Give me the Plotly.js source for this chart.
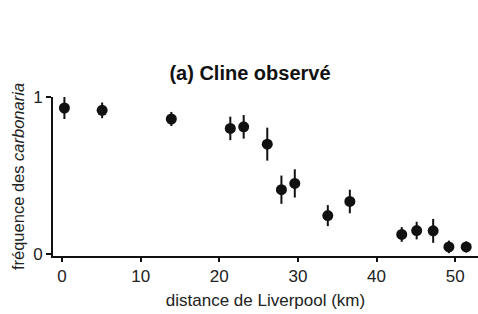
<!DOCTYPE html>
<html>
<head>
<meta charset="utf-8">
<script src="https://cdn.plot.ly/plotly-3.0.1.min.js"></script>
<style>html,body{margin:0;padding:0;background:#fff;}#chart{width:478px;height:314px;}</style>
</head>
<body>
<div id="chart"></div>
<script>
// distance from Liverpool (km)
const distanceKm = [0.3, 5.1, 13.9, 21.4, 23.1, 26.1, 27.9, 29.6, 33.8, 36.6, 43.2, 45.1, 47.2, 49.2, 51.4];
// observed frequency of carbonaria
const frequency = [0.93, 0.915, 0.86, 0.80, 0.81, 0.70, 0.41, 0.45, 0.245, 0.335, 0.125, 0.15, 0.148, 0.046, 0.046];
// half-length of the error bars
const errHalf = [0.07, 0.05, 0.045, 0.075, 0.075, 0.105, 0.09, 0.09, 0.067, 0.075, 0.047, 0.056, 0.076, 0.04, 0.035];
const xTicks = [0, 10, 20, 30, 40, 50];
const yTicks = [0, 1];

const trace = {
  x: distanceKm,
  y: frequency,
  type: 'scatter',
  mode: 'markers',
  cliponaxis: false,
  marker: {color: '#111', size: 11},
  error_y: {type: 'data', array: errHalf, visible: true, color: '#111', thickness: 2, width: 0}
};

const font = {family: 'Liberation Sans, Arial, sans-serif', color: '#222', size: 16};

const layout = {
  width: 478, height: 314,
  margin: {l: 53, r: 0, t: 97, b: 58},
  paper_bgcolor: '#fff', plot_bgcolor: '#fff',
  font: font,
  showlegend: false,
  title: {
    text: '<b>(a) Cline observé</b>',
    x: 0.523, xref: 'container', xanchor: 'center',
    y: 0.768, yref: 'container', yanchor: 'middle',
    font: {family: 'Liberation Sans, Arial, sans-serif', size: 20, color: '#111'}
  },
  xaxis: {
    range: [-1.15, 52.9],
    tickvals: xTicks, ticktext: xTicks.map(String),
    showgrid: false, zeroline: false,
    showline: true, linecolor: '#111', linewidth: 2,
    ticks: 'outside', ticklen: 4, tickwidth: 2, tickcolor: '#111',
    tickfont: {size: 17, color: '#222'},
    title: {text: 'distance de Liverpool (km)', standoff: 9, font: {size: 17, color: '#222'}}
  },
  yaxis: {
    range: [-0.012, 1],
    tickvals: yTicks, ticktext: yTicks.map(String),
    showgrid: false, zeroline: false,
    showline: true, linecolor: '#111', linewidth: 2,
    ticks: 'outside', ticklen: 5, tickwidth: 2, tickcolor: '#111',
    tickfont: {size: 17, color: '#222'},
    title: {text: 'fréquence des <i>carbonaria</i>', standoff: 4, font: {size: 16.5, color: '#222'}}
  }
};

Plotly.newPlot('chart', [trace], layout, {staticPlot: true, displayModeBar: false});
</script>
</body>
</html>
